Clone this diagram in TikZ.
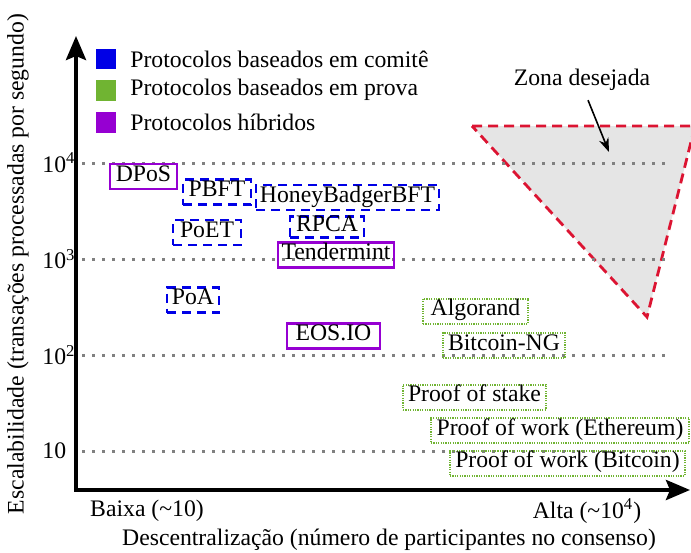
\documentclass[tikz,border=0pt]{standalone}
\usepackage{fontspec}
\setmainfont{Liberation Serif}
\usetikzlibrary{arrows.meta}

\definecolor{comite}{RGB}{0,0,230}
\definecolor{prova}{RGB}{112,180,50}
\definecolor{hibrido}{RGB}{150,0,210}
\definecolor{zona}{RGB}{220,20,50}

\tikzset{
  rotulo/.style={font=\fontsize{11.85}{14}\selectfont, inner sep=1pt},
  caixa/.style={rotulo, inner sep=0pt, minimum height=12.5pt, text height=0.7em, text depth=0.22em},
  comitebox/.style={caixa, draw=comite, line width=1.2pt, dash pattern=on 4.5pt off 3pt},
  provabox/.style={caixa, draw=prova, line width=1pt, dash pattern=on 0.6pt off 0.6pt},
  hibbox/.style={caixa, draw=hibrido, line width=1.1pt},
  grade/.style={gray, line width=1.5pt, dash pattern=on 1.5pt off 3.5pt},
  eixo/.style={line width=2pt, -{Stealth[length=12pt,width=10pt,inset=2pt]}}
}

\begin{document}
\begin{tikzpicture}[x=0.5pt, y=-0.5pt]
\useasboundingbox (0,0) rectangle (691,552); % pixels da imagem

% zona desejada
\draw [zona, fill=gray!20, line width=1.4pt, dash pattern=on 5pt off 3pt] (472,126) -- (695,126) -- (647,317) -- cycle;

% linhas de grade
\foreach \y/\e in {163/4, 259/3, 355/2} {
  \draw [grade] (82,\y) -- (665,\y);
  \node [rotulo, anchor=east] at (68.5,\y) {10\rlap{\textsuperscript{\e}}};
}
\draw [grade] (82,451) -- (665,451);
\node [rotulo, anchor=east] (dez) at (68.5,451) {10};

% eixos
\coordinate (origem) at (76,490);
\coordinate (topo) at (76,36);
\coordinate (fim) at (690,490);
\draw [eixo] (origem) -- (topo);
\draw [eixo] ([xshift=-1pt]origem) -- (fim);

\node [rotulo, rotate=90] (ylab) at (18,264) {Escalabilidade (transações processadas por segundo)};
\node [rotulo] (baixa) at (147,511) {Baixa (\textasciitilde10)};
\node [rotulo] (alta) at (587,511) {Alta (\textasciitilde10\textsuperscript{4})};
\node [rotulo] (xlab) at (389,540) {Descentralização (número de participantes no consenso)};

% legenda
\fill [comite] (96,49) rectangle (116,69);
\fill [prova] (96,80) rectangle (116,101);
\fill [hibrido] (96,112) rectangle (116,133);
\node [rotulo, anchor=west] (legcomite) at (128,59) {Protocolos baseados em comitê};
\node [rotulo, anchor=west] (legprova) at (128,90) {Protocolos baseados em prova};
\node [rotulo, anchor=west] (leghib) at (128,122) {Protocolos híbridos};

% protocolos
\node [hibbox, minimum width=33.5pt] (dpos) at (143.5,176.5) {DPoS};
\node [comitebox, minimum width=34pt] (pbft) at (217,192) {PBFT};
\node [comitebox, minimum width=91.5pt] (honey) at (347.5,197.5) {HoneyBadgerBFT};
\node [comitebox, minimum width=34pt] (poet) at (207,232.5) {PoET};
\node [comitebox, minimum width=37pt, minimum height=10.5pt] (rpca) at (327,227) {RPCA};
\node [hibbox, minimum width=58pt] (tender) at (336,255) {Tendermint};
\node [comitebox, minimum width=26pt] (poa) at (193,300) {PoA};
\node [hibbox, minimum width=46.5pt] (eos) at (333.5,336) {EOS.IO};
\node [provabox, minimum width=52.5pt] (algo) at (475.5,311) {Algorand};
\node [provabox, minimum width=61pt] (btcng) at (504,345.5) {Bitcoin-NG};
\node [provabox, minimum width=71.5pt] (pos) at (474.5,397) {Proof of stake};
\node [provabox, minimum width=129pt] (poweth) at (560,430.5) {Proof of work (Ethereum)};
\node [provabox, minimum width=117.5pt] (powbtc) at (567.5,463) {Proof of work (Bitcoin)};

\node [rotulo] (zonatxt) at (582,80) {Zona desejada};
\coordinate (zonaponta) at (609,152);
\draw [line width=0.8pt, -{Stealth[length=7pt,width=5pt]}] (zonatxt.south) ++(6,7) -- (zonaponta);
\end{tikzpicture}
\end{document}
